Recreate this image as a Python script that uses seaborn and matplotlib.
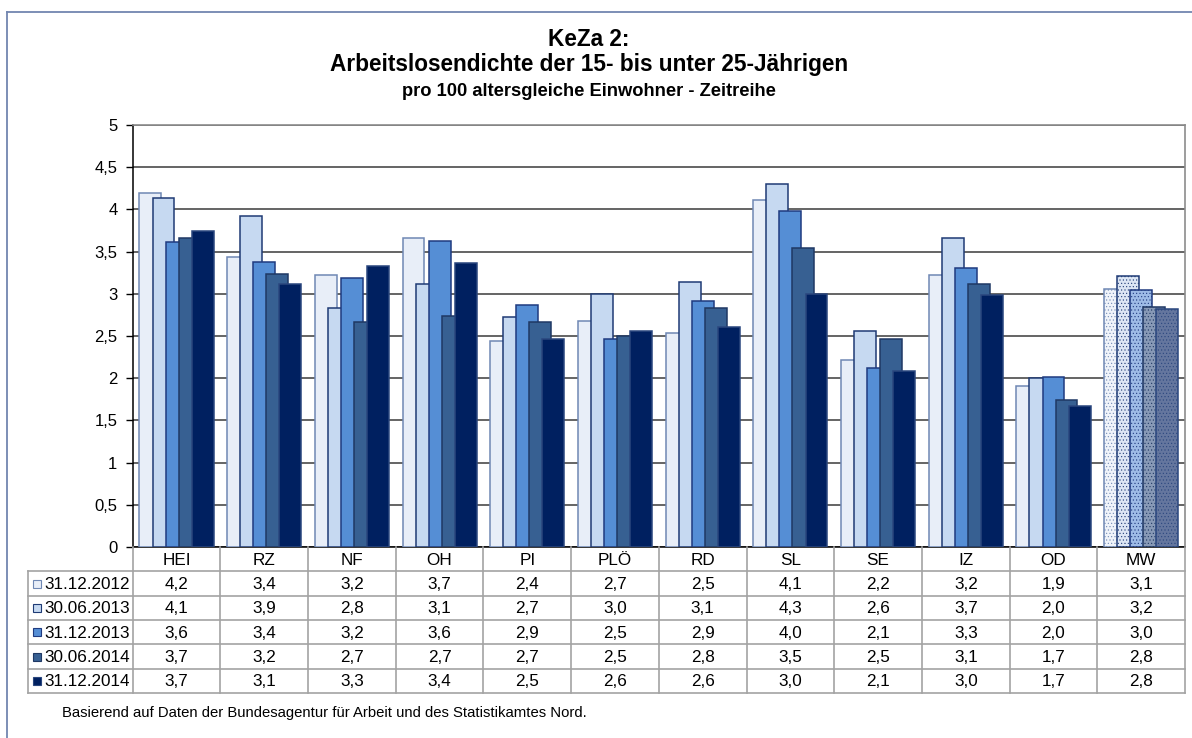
import matplotlib
matplotlib.use('Agg')
import matplotlib.pyplot as plt
import matplotlib.ticker as mticker
from matplotlib.patches import Rectangle
from matplotlib.lines import Line2D
import seaborn as sns
import pandas as pd
import numpy as np

# --- data ---
categories = ['HEI', 'RZ', 'NF', 'OH', 'PI', 'PLÖ', 'RD', 'SL', 'SE', 'IZ', 'OD', 'MW']
series = ['31.12.2012', '30.06.2013', '31.12.2013', '30.06.2014', '31.12.2014']
v_2012_12 = [4.20, 3.44, 3.22, 3.66, 2.44, 2.68, 2.54, 4.11, 2.22, 3.22, 1.91, 3.06]
v_2013_06 = [4.13, 3.92, 2.83, 3.12, 2.72, 3.00, 3.14, 4.30, 2.56, 3.66, 2.00, 3.21]
v_2013_12 = [3.61, 3.38, 3.19, 3.62, 2.87, 2.46, 2.92, 3.98, 2.12, 3.30, 2.01, 3.04]
v_2014_06 = [3.66, 3.23, 2.67, 2.74, 2.67, 2.50, 2.83, 3.54, 2.47, 3.12, 1.74, 2.84]
v_2014_12 = [3.74, 3.12, 3.33, 3.37, 2.46, 2.56, 2.61, 3.00, 2.09, 2.99, 1.67, 2.82]
values = [v_2012_12, v_2013_06, v_2013_12, v_2014_06, v_2014_12]

face = ['#E8EEF8', '#C6D9F1', '#558ED5', '#376092', '#002060']
edge = ['#6F88B4', '#1F3B75', '#1F3B80', '#1F3864', '#2A467E']
mw_face = ['#F0F4FA', '#DCE6F4', '#9DBBE6', '#8799B6', '#64769E']

W, H = 1192, 738
plt.rcParams['font.family'] = ['Liberation Sans', 'DejaVu Sans']
plt.rcParams['hatch.linewidth'] = 0.4

fig = plt.figure(figsize=(W / 100, H / 100), dpi=100)
fig.patch.set_facecolor('white')

# plot area in pixel coordinates
px_l, px_r, px_t, px_b = 132.7, 1185, 125, 547
ax = fig.add_axes([px_l / W, 1 - px_b / H, (px_r - px_l) / W, (px_b - px_t) / H])

x_pos = np.arange(len(categories))
offsets = np.array([-2, -1, 0, 1, 2]) * 0.149
bar_w = 0.25
n_reg = len(categories) - 1

for i, vals in enumerate(values):
    df = pd.DataFrame({'x': x_pos + offsets[i], 'y': vals})
    sns.barplot(data=df.iloc[:n_reg], x='x', y='y', native_scale=True, width=bar_w,
                color=face[i], edgecolor=edge[i], linewidth=1.1, saturation=1,
                errorbar=None, ax=ax, zorder=3)
    sns.barplot(data=df.iloc[n_reg:], x='x', y='y', native_scale=True, width=bar_w,
                color=mw_face[i], edgecolor=edge[i], linewidth=1.1, saturation=1,
                hatch='.....', errorbar=None, ax=ax, zorder=3)

ax.set_xlim(-0.5, len(categories) - 0.5)
ax.set_ylim(0, 5)
ax.set_yticks(np.arange(0, 5.01, 0.5))
ax.yaxis.set_major_formatter(mticker.FuncFormatter(
    lambda v, p: ('%g' % v).replace('.', ',')))
ax.set_xticks([])
ax.set_xlabel('')
ax.set_ylabel('')
ax.yaxis.grid(True, color='#3A3A3A', lw=1.1)
ax.set_axisbelow(True)
ax.tick_params(axis='y', length=5, width=1, pad=6, labelsize=12, colors='black')
for s in ['top', 'right']:
    ax.spines[s].set_color('#8C8C8C')
    ax.spines[s].set_linewidth(1.2)
ax.spines['left'].set_color('black')
ax.spines['bottom'].set_color('black')
ax.spines['left'].set_linewidth(1.1)
ax.spines['bottom'].set_linewidth(1.1)

# --- data table below the plot ---
tb_l, tb_b = 27.7, 693
tax = fig.add_axes([tb_l / W, 1 - tb_b / H, (px_r - tb_l) / W, (tb_b - px_b) / H])
unit = (px_r - px_l) / len(categories)
x_left = -0.5 - (px_l - tb_l) / unit
tax.set_xlim(x_left, len(categories) - 0.5)
tax.set_ylim(len(series) + 1, 0)
tax.axis('off')

grid_c = '#A3A3A3'
for r in range(1, len(series) + 2):
    tax.plot([x_left, len(categories) - 0.5], [r, r], color=grid_c, lw=1.2, clip_on=False)
for k in range(len(categories) + 1):
    tax.plot([k - 0.5, k - 0.5], [0, len(series) + 1], color=grid_c, lw=1.2, clip_on=False)
tax.plot([x_left, x_left], [1, len(series) + 1], color=grid_c, lw=1.2, clip_on=False)

fs = 12.3
for k, c in enumerate(categories):
    tax.text(k, 0.55, c, ha='center', va='center', fontsize=fs)
row_h = (tb_b - px_b) / (len(series) + 1)
for i, (name, vals) in enumerate(zip(series, values)):
    y = i + 1.5
    tax.add_patch(Rectangle((x_left + 5.5 / unit, y - 4 / row_h), 8 / unit, 8 / row_h,
                            facecolor=face[i], edgecolor=edge[i], lw=0.8))
    tax.text(x_left + 17 / unit, y + 0.04, name, ha='left', va='center', fontsize=fs)
    for k, v in enumerate(vals):
        tax.text(k, y + 0.04, ('%.1f' % v).replace('.', ','), ha='center', va='center',
                 fontsize=fs)

# --- titles and footnote ---
cx = 589 / W
fig.text(cx, 1 - 45.7 / H, 'KeZa 2:', ha='center', va='baseline', fontsize=16.3,
         weight='bold')
fig.text(cx, 1 - 71 / H, 'Arbeitslosendichte der 15- bis unter 25-Jährigen', ha='center',
         va='baseline', fontsize=16.3, weight='bold')
fig.text(cx, 1 - 96 / H, 'pro 100 altersgleiche Einwohner - Zeitreihe', ha='center',
         va='baseline', fontsize=13.2, weight='bold')
fig.text(62 / W, 1 - 717 / H,
         'Basierend auf Daten der Bundesagentur für Arbeit und des Statistikamtes Nord.',
         ha='left', va='baseline', fontsize=10.7)

# outer frame (left and top edges visible)
frame_c = '#7286B0'
fig.add_artist(Line2D([7 / W, 7 / W], [0, 1 - 12 / H], transform=fig.transFigure,
                      color=frame_c, lw=1.3))
fig.add_artist(Line2D([7 / W, 1], [1 - 12 / H, 1 - 12 / H], transform=fig.transFigure,
                      color=frame_c, lw=1.3))

fig.savefig('out.png', dpi=100)
